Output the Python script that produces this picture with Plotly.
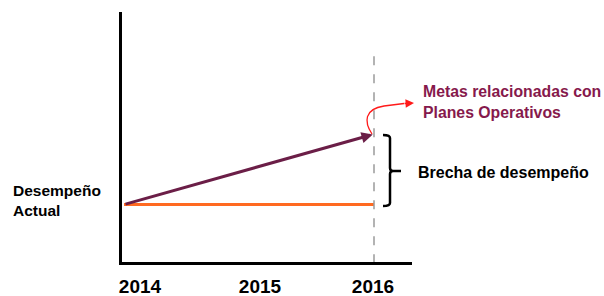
import plotly.graph_objects as go

years = [2014, 2015, 2016]
year_labels = ["2014", "2015", "2016"]
actual = [2.3, 2.3, 2.3]
target = [2.3, 3.7, 5.1]
y_top = 8.4

# pixel -> data helpers (plot area: x 122..412, y 12..262)
def X(px):
    return 2014 + (px - 124) / 125.0

def Y(py):
    return (262 - py) / 25.0

def PX(px):
    return (px - 122) / 290.0

def PY(py):
    return (262 - py) / 250.0

fig = go.Figure()

fig.add_trace(go.Scatter(x=years, y=actual, mode="lines",
                         line=dict(color="#FF6A21", width=3), hoverinfo="skip"))

# dashed vertical line at 2016
fig.add_shape(type="line", xref="x", yref="y", x0=years[-1], x1=years[-1],
              y0=-0.05, y1=y_top, line=dict(color="#9A9A9A", width=1.5, dash="dash"))

# purple arrow (target trajectory)
fig.add_annotation(x=years[-1] - 0.01, y=target[-1], ax=years[0], ay=target[0],
                   xref="x", yref="y", axref="x", ayref="y", text="",
                   showarrow=True, arrowhead=2, arrowsize=0.75, arrowwidth=3,
                   arrowcolor="#6B1E47")

# bracket "}"
bx0, bx1, bx2 = X(383), X(390), X(401)
ytop, ybot, ymid = Y(135), Y(206), Y(171)
r = 0.12
path = (f"M {bx0},{ytop} Q {bx1},{ytop} {bx1},{ytop - r} "
        f"L {bx1},{ymid + r} Q {bx1},{ymid} {X(393)},{ymid} L {bx2},{ymid} "
        f"M {X(393)},{ymid} Q {bx1},{ymid} {bx1},{ymid - r} "
        f"L {bx1},{ybot + r} Q {bx1},{ybot} {bx0},{ybot}")
fig.add_shape(type="path", xref="x", yref="y", path=path,
              line=dict(color="black", width=2.5))

# red curved arrow
cpath = (f"M {X(372)},{Y(134)} C {X(364)},{Y(122)} {X(364)},{Y(109)} {X(384)},{Y(106)} "
         f"L {X(404)},{Y(103.5)}")
fig.add_shape(type="path", xref="x", yref="y", path=cpath,
              line=dict(color="#FF1A1A", width=1.3))
fig.add_annotation(x=X(414), y=Y(103), ax=X(403), ay=Y(103.6),
                   xref="x", yref="y", axref="x", ayref="y", text="",
                   showarrow=True, arrowhead=2, arrowsize=1.3, arrowwidth=1.3,
                   arrowcolor="#FF1A1A")

font_b = "Liberation Sans, Arial, sans-serif"
fig.add_annotation(x=PX(421), y=PY(102), xref="paper", yref="paper", xanchor="left", yanchor="middle",
                   text="<b>Metas relacionadas con<br>Planes Operativos</b>", showarrow=False,
                   align="left", font=dict(family=font_b, size=15.8, color="#86194C"))
fig.add_annotation(x=PX(416), y=PY(172), xref="paper", yref="paper", xanchor="left", yanchor="middle",
                   text="<b>Brecha de desempeño</b>", showarrow=False,
                   font=dict(family=font_b, size=16, color="black"))
fig.add_annotation(x=PX(11), y=PY(200), xref="paper", yref="paper", xanchor="left", yanchor="middle",
                   text="<b>Desempeño<br>Actual</b>", showarrow=False, align="left",
                   font=dict(family=font_b, size=15.5, color="black"))

fig.update_layout(
    width=604, height=296,
    margin=dict(l=122, r=192, t=12, b=34),
    paper_bgcolor="white", plot_bgcolor="white",
    showlegend=False,
    xaxis=dict(range=[X(122), X(412)], showgrid=False, zeroline=False, automargin=False,
               showline=True, linecolor="black", linewidth=2.5,
               tickvals=[X(140), X(260), X(373)], ticktext=year_labels,
               ticks="", ticklabelstandoff=5,
               tickfont=dict(family=font_b, size=19, color="black", weight="bold")),
    yaxis=dict(range=[0, 10], showgrid=False, zeroline=False, automargin=False,
               showline=True, linecolor="black", linewidth=2.5,
               showticklabels=False, ticks=""),
)

fig.write_html("out.html", config={"displayModeBar": False},
               post_script="document.body.style.margin='0';")
